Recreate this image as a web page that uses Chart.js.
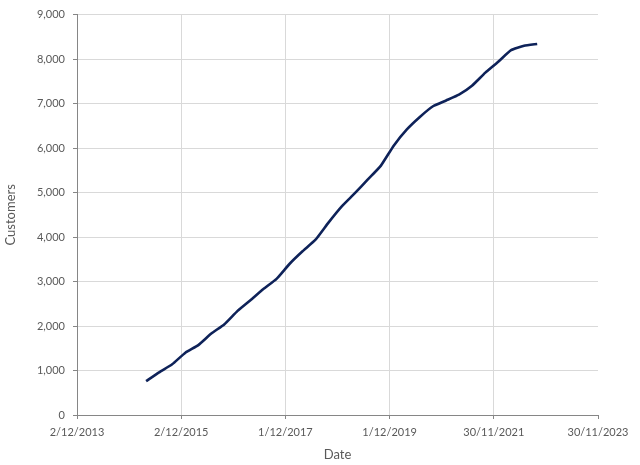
<!DOCTYPE html>
<html>
<head>
<meta charset="utf-8">
<title>Customers</title>
<script src="https://cdn.jsdelivr.net/npm/chart.js@4.4.1/dist/chart.umd.min.js"></script>
<style>
  html, body { margin: 0; padding: 0; background: #fff; }
  #wrap { width: 640px; height: 465px; }
</style>
</head>
<body>
<div id="wrap"><canvas id="customerChart" width="640" height="465"></canvas></div>
<script>
/* ================= DATA ================= */

const quarterEnds = [
  "2015-03-31", "2015-06-30", "2015-09-30", "2015-12-31",
  "2016-03-31", "2016-06-30", "2016-09-30", "2016-12-31",
  "2017-03-31", "2017-06-30", "2017-09-30", "2017-12-31",
  "2018-03-31", "2018-06-30", "2018-09-30", "2018-12-31",
  "2019-03-31", "2019-06-30", "2019-09-30", "2019-12-31",
  "2020-03-31", "2020-06-30", "2020-09-30", "2020-12-31",
  "2021-03-31", "2021-06-30", "2021-09-30", "2021-12-31",
  "2022-03-31", "2022-06-30", "2022-09-30"
];

const customers = [
  760, 960, 1140, 1400,
  1570, 1830, 2040, 2340,
  2580, 2830, 3060, 3400,
  3680, 3940, 4330, 4690,
  4980, 5290, 5600, 6060,
  6420, 6700, 6940, 7070,
  7200, 7400, 7690, 7940,
  8200, 8300, 8340
];

const xTickLabels = ["2/12/2013", "2/12/2015", "1/12/2017", "1/12/2019", "30/11/2021", "30/11/2023"];
const yTicks = [0, 1000, 2000, 3000, 4000, 5000, 6000, 7000, 8000, 9000];

/* ================= HELPERS ================= */

// days since epoch, so the x axis is a plain linear scale
function isoToDay(s) {
  const [y, m, d] = s.split("-").map(Number);
  return Date.UTC(y, m - 1, d) / 86400000;
}

function dmyToDay(s) {
  const [d, m, y] = s.split("/").map(Number);
  return Date.UTC(y, m - 1, d) / 86400000;
}

const xTickDays = xTickLabels.map(dmyToDay);
const points = quarterEnds.map((q, i) => ({ x: isoToDay(q), y: customers[i] }));

const axisGrey = "#868686";
const gridGrey = "#d9d9d9";
const textGrey = "#595959";

/* ================= CHART ================= */

new Chart(document.getElementById("customerChart"), {
  type: "line",
  data: {
    datasets: [{
      label: "Customers",
      data: points,
      borderColor: "#0e2259",
      borderWidth: 2.6,
      pointRadius: 0,
      tension: 0.15,
      fill: false
    }]
  },
  options: {
    responsive: false,
    animation: false,
    layout: { padding: { top: 13, right: 42, bottom: 0, left: 0 } },
    plugins: {
      legend: { display: false },
      tooltip: { enabled: false }
    },
    scales: {
      x: {
        type: "linear",
        min: xTickDays[0],
        max: xTickDays[xTickDays.length - 1],
        afterBuildTicks: (scale) => {
          scale.ticks = xTickDays.map(v => ({ value: v }));
        },
        afterFit: (scale) => { scale.height = 50; },
        ticks: {
          autoSkip: false,
          maxRotation: 0,
          padding: 7,
          color: textGrey,
          font: { family: "Lato", size: 11 },
          callback: (v, i) => xTickLabels[i]
        },
        grid: {
          color: (c) => c.index === xTickDays.length - 1 ? "rgba(0,0,0,0)" : gridGrey,
          tickColor: axisGrey,
          tickLength: 4
        },
        border: { color: axisGrey, width: 1 },
        title: {
          display: true,
          text: "Date",
          color: textGrey,
          font: { family: "Lato", size: 13 },
          padding: { top: 0, bottom: 2 }
        }
      },
      y: {
        min: 0,
        max: 9000,
        afterBuildTicks: (scale) => {
          scale.ticks = yTicks.map(v => ({ value: v }));
        },
        afterFit: (scale) => { scale.width = 77; },
        ticks: {
          padding: 8,
          color: textGrey,
          font: { family: "Lato", size: 11 },
          callback: (v) => v.toLocaleString("en-US")
        },
        grid: {
          color: gridGrey,
          tickColor: axisGrey,
          tickLength: 4
        },
        border: { color: axisGrey, width: 1 },
        title: {
          display: true,
          text: "Customers",
          color: textGrey,
          font: { family: "Lato", size: 13 },
          padding: { top: 3, bottom: 0 }
        }
      }
    }
  }
});
</script>
</body>
</html>
